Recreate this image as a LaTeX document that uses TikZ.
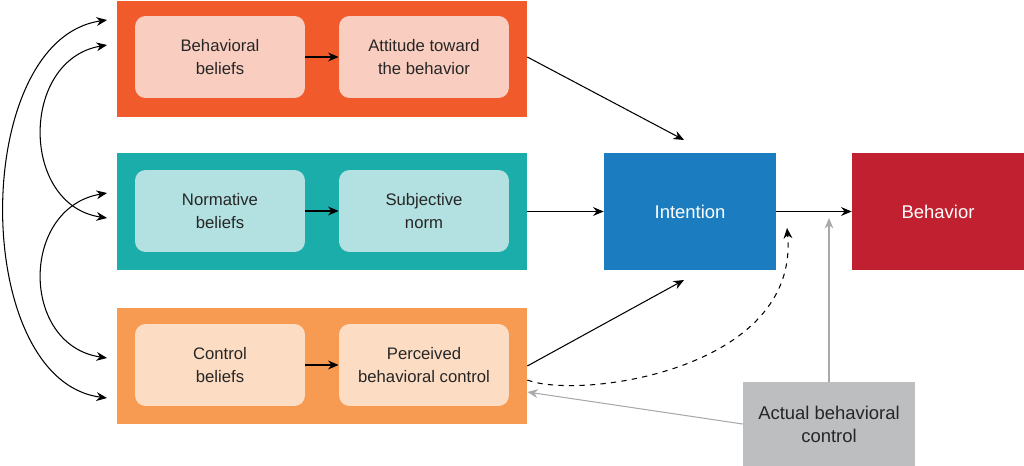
\documentclass[tikz,border=0pt]{standalone}
\usepackage{fontspec}
\setmainfont{Liberation Sans}
\usetikzlibrary{arrows.meta}
\definecolor{bandA}{HTML}{F15A2B}
\definecolor{bandB}{HTML}{1AADA9}
\definecolor{bandC}{HTML}{F79A52}
\definecolor{cellA}{HTML}{F9CDBF}
\definecolor{cellB}{HTML}{B3E0E0}
\definecolor{cellC}{HTML}{FCDCC3}
\definecolor{intent}{HTML}{1B7CC0}
\definecolor{behav}{HTML}{C0202F}
\definecolor{actual}{HTML}{BDBEC0}
\definecolor{arrowgray}{HTML}{A7A9AC}
\tikzset{
  band/.style={minimum width=8.2cm, minimum height=2.34cm, inner sep=0pt},
  cell/.style={rounded corners=6pt, minimum width=3.4cm, minimum height=1.64cm,
    inner sep=0pt, align=center, text=black!85, font=\fontsize{9.5}{13}\selectfont},
  big/.style={minimum width=3.44cm, minimum height=2.34cm, inner sep=0pt,
    align=center, text=white, font=\fontsize{10.5}{13}\selectfont},
  link/.style={-{Stealth[length=6pt,width=5pt]}, semithick},
  glink/.style={link, arrowgray}
}
\begin{document}
\begin{tikzpicture}[x=0.02cm, y=-0.02cm]
  \useasboundingbox (0,0) rectangle (1024,466);
  % bands
  \node[band, fill=bandA] (att) at (322,59) {};
  \node[band, fill=bandB] (norm) at (322,211.5) {};
  \node[band, fill=bandC] (ctrl) at (322,366) {};
  % cells
  \node[cell, fill=cellA] (bb) at (220,57) {Behavioral\\beliefs};
  \node[cell, fill=cellA] (ab) at (424,57) {Attitude toward\\the behavior};
  \node[cell, fill=cellB] (nb) at (220,211) {Normative\\beliefs};
  \node[cell, fill=cellB] (sn) at (424,211) {Subjective\\norm};
  \node[cell, fill=cellC] (cb) at (220,365) {Control\\beliefs};
  \node[cell, fill=cellC] (pbc) at (424,365) {Perceived\\behavioral control};
  % right side
  \node[big, fill=intent] (int) at (690,211.5) {Intention};
  \node[big, fill=behav] (beh) at (938,211.5) {Behavior};
  \node[big, fill=actual, text=black!85, minimum height=1.68cm] (abc) at (829,424)
    {Actual behavioral\\control};
  \draw[link] (bb) -- (ab);
  \draw[link] (nb) -- (sn);
  \draw[link] (cb) -- (pbc);
  \coordinate (t1) at (684,140);
  \coordinate (t2) at (684,280);
  \coordinate (t3) at (787,228);
  \coordinate (t4) at (829,218);
  \draw[link] (att.east |- 0,57) -- (t1);
  \draw[link] (norm.east) -- (int.west);
  \draw[link] (ctrl.east |- 0,366) -- (t2);
  \draw[link] (int.east) -- (beh.west);
  \draw[link, dashed] (ctrl.east |- 0,380) .. controls (580,400) and (800,370) .. (t3);
  \draw[glink] (abc.north) -- (t4);
  \draw[glink] (abc.west |- 0,424) -- (ctrl.east |- 0,392);
  % left loops
  \draw[link, {Stealth[length=6pt,width=5pt]}-{Stealth[length=6pt,width=5pt]}]
    (107,20) .. controls (-30,40) and (-30,380) .. (107,398);
  \draw[link, {Stealth[length=6pt,width=5pt]}-{Stealth[length=6pt,width=5pt]}]
    (107,45) .. controls (20,60) and (20,205) .. (107,218);
  \draw[link, {Stealth[length=6pt,width=5pt]}-{Stealth[length=6pt,width=5pt]}]
    (107,193) .. controls (20,208) and (20,345) .. (107,358);
\end{tikzpicture}
\end{document}
